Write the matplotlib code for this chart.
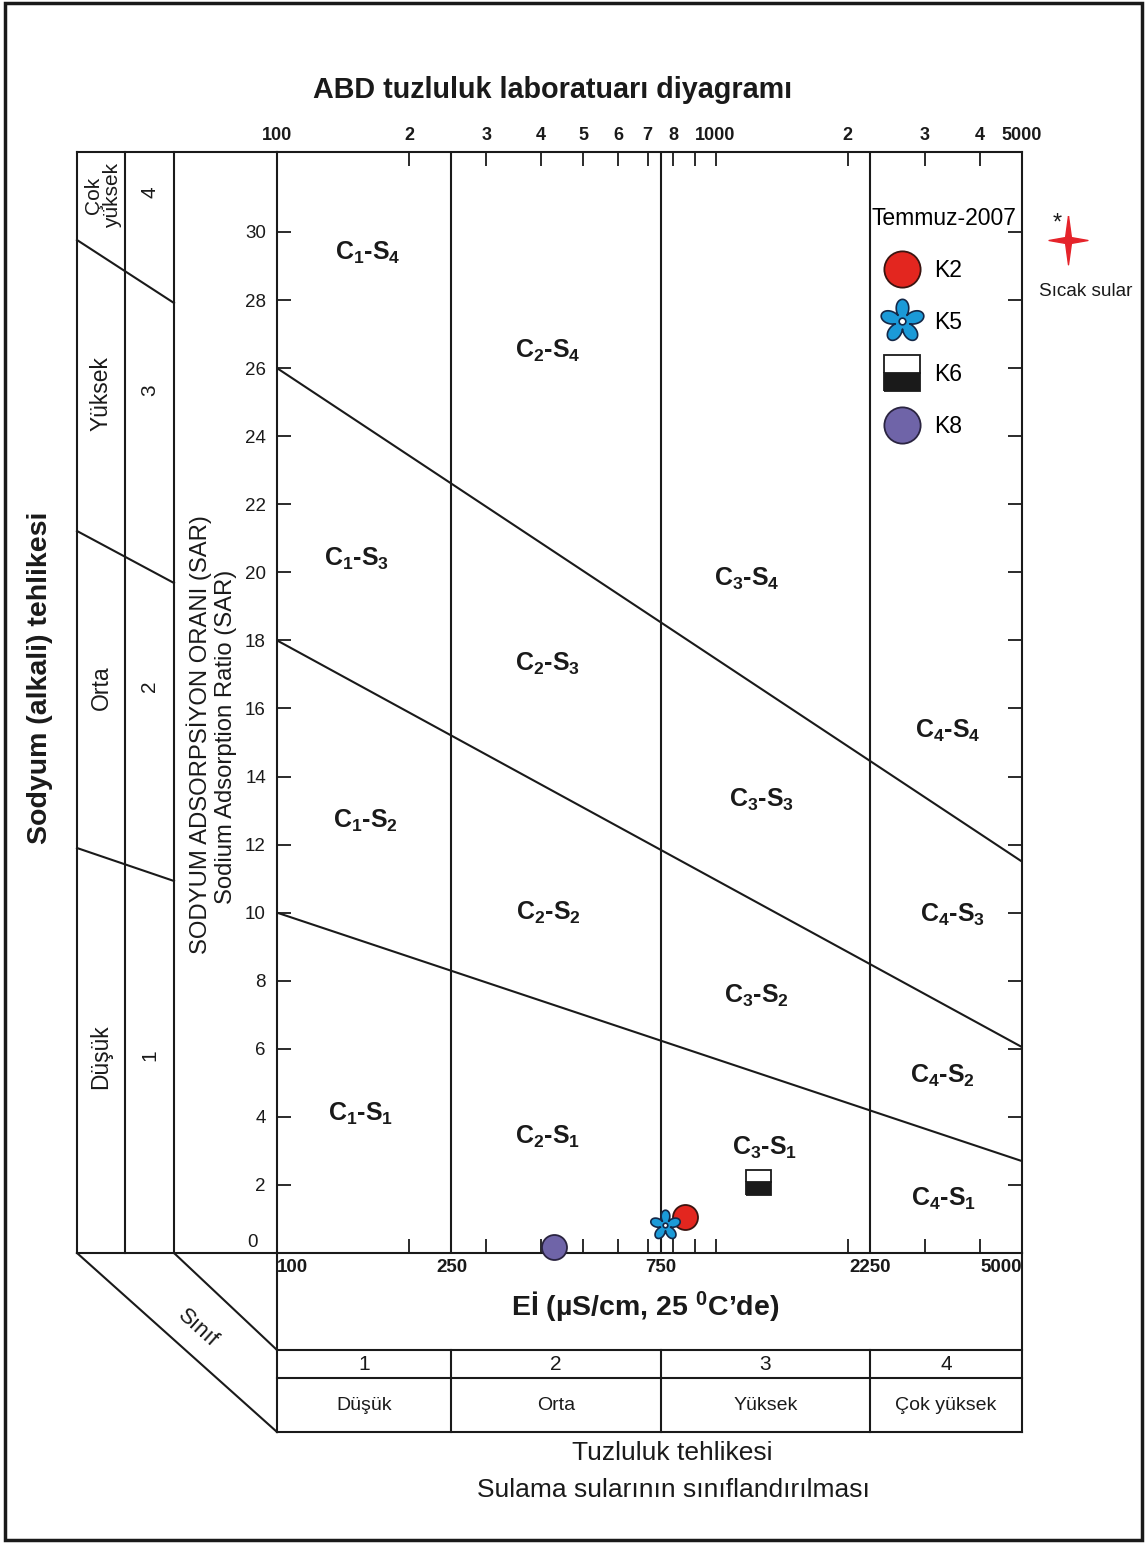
import numpy as np
import matplotlib
matplotlib.use("Agg")
import matplotlib.pyplot as plt
from matplotlib.path import Path
from matplotlib.ticker import NullLocator
from matplotlib.patches import Rectangle

plt.rcParams['font.family'] = ['Liberation Sans', 'DejaVu Sans']
plt.rcParams['mathtext.fontset'] = 'custom'
plt.rcParams['mathtext.rm'] = 'Liberation Sans'
plt.rcParams['mathtext.bf'] = 'Liberation Sans:bold'
plt.rcParams['mathtext.it'] = 'Liberation Sans:italic'

# ---------------- data ----------------
sample_names = ["K2", "K5", "K6", "K8"]
sample_ec = [852, 767, 1247, 428]        # EC (uS/cm)
sample_sar = [1.06, 0.82, 2.09, 0.18]     # SAR

ec_bounds = [250, 750, 2250]              # salinity class limits
ec_range = [100, 5000]
sar_lines_at_100 = [10.0, 18.0, 26.0]     # sodium class limits at EC=100
sar_lines_at_5000 = [2.7, 6.05, 11.5]     # sodium class limits at EC=5000

top_ticks = [100, 200, 300, 400, 500, 600, 700, 800, 900, 1000, 2000, 3000, 4000, 5000]
top_labels = ["100", "2", "3", "4", "5", "6", "7", "8", "", "1000", "2", "3", "4", "5000"]
bottom_labels = ["100", "250", "750", "2250", "5000"]
sar_ticks = list(range(0, 31, 2))
sar_labels = [""] + [str(v) for v in sar_ticks[1:]]

salinity_class = ["1", "2", "3", "4"]
salinity_names = ["Düşük", "Orta", "Yüksek", "Çok yüksek"]

# region label positions (EC, SAR)
region_labels = [
    ("1", "4", 161, 29.4), ("2", "4", 415, 26.5), ("1", "3", 152, 20.4), ("2", "3", 415, 17.3),
    ("3", "4", 1180, 19.8), ("4", "4", 3390, 15.35), ("1", "2", 159, 12.7), ("3", "3", 1276, 13.3),
    ("2", "2", 415, 10.0), ("4", "3", 3480, 9.94), ("3", "2", 1243, 7.56), ("4", "2", 3285, 5.2),
    ("1", "1", 155, 4.1), ("2", "1", 415, 3.4), ("3", "1", 1297, 3.1), ("4", "1", 3320, 1.6),
]

# ---------------- figure ----------------
W, H = 1145, 1544
fig = plt.figure(figsize=(W / 100, H / 100), dpi=100)
fig.patch.set_facecolor('white')


def fx(px):
    return px / W


def fy(py):
    return 1 - py / H


LW = 1.5
K = '#1a1a1a'

ax0 = fig.add_axes([0, 0, 1, 1], zorder=0)
ax0.set_xlim(0, W)
ax0.set_ylim(H, 0)
ax0.axis('off')

X0, X1, Y0, Y1 = 277, 1022, 152, 1253
ax = fig.add_axes([fx(X0), fy(Y1), (X1 - X0) / W, (Y1 - Y0) / H], zorder=2)
ax.set_facecolor('none')
ax.set_xscale('log')
ax.set_xlim(*ec_range)
ax.set_ylim(0, 32.35)
ax.xaxis.set_minor_locator(NullLocator())
ax.set_xticks(top_ticks, top_labels, fontweight='bold')
ax.tick_params(axis='x', which='major', direction='in', length=10, width=1.3,
               top=True, bottom=True, labeltop=True, labelbottom=False,
               labelsize=13, pad=6, colors=K)
ax.set_yticks(sar_ticks, sar_labels)
ax.tick_params(axis='y', direction='in', length=10, width=1.3, left=True, right=True,
               labelsize=13.5, pad=8, colors=K)
ax.text(-0.026, 0.3, "0", transform=ax.get_yaxis_transform(), ha='right', va='center',
        fontsize=13.5, color=K)
for s in ax.spines.values():
    s.set_linewidth(LW)
    s.set_color(K)

# class boundaries
for e in ec_bounds:
    ax.axvline(e, color=K, lw=LW)
for a, b in zip(sar_lines_at_100, sar_lines_at_5000):
    ax.plot(ec_range, [a, b], color=K, lw=LW)

# region labels
for c, s, xe, ys in region_labels:
    ax.text(xe, ys, r"C$_\mathbf{%s}$-S$_\mathbf{%s}$" % (c, s), fontsize=18,
            fontweight='bold', ha='center', va='center', color=K)

# bottom labels
for v, lab in zip([ec_range[0]] + ec_bounds + [ec_range[1]], bottom_labels):
    ha = 'center'
    if lab == bottom_labels[0]:
        ha = 'left'
    elif lab == bottom_labels[-1]:
        ha = 'right'
    ax.text(v, -0.0136, lab, transform=ax.get_xaxis_transform(), ha=ha, va='center',
            fontsize=13.5, fontweight='bold', color=K)

# markers
th = np.linspace(0, 2 * np.pi, 241)
rr = 0.34 + 0.66 * ((1 + np.cos(5 * (th - np.pi / 2))) / 2) ** 0.45
outer = np.column_stack([rr * np.cos(th), rr * np.sin(th)])
thi = np.linspace(2 * np.pi, 0, 41)
inner = np.column_stack([0.15 * np.cos(thi), 0.15 * np.sin(thi)])
verts = np.vstack([outer, inner])
codes = ([Path.MOVETO] + [Path.LINETO] * (len(outer) - 2) + [Path.CLOSEPOLY] +
         [Path.MOVETO] + [Path.LINETO] * (len(inner) - 2) + [Path.CLOSEPOLY])
flower = Path(verts, codes)

styles = {
    "K2": dict(marker='o', ms=18, mfc='#e3261f', mec='#3a1410', mew=1.3),
    "K5": dict(marker=flower, ms=22, mfc='#1b9ad8', mec='#142848', mew=1.2),
    "K6": dict(marker='s', ms=18, fillstyle='bottom', mfc='#1a1a1a', mfcalt='white',
               mec='#1a1a1a', mew=1.3),
    "K8": dict(marker='o', ms=18, mfc='#6f64a8', mec='#2a2440', mew=1.3),
}
handles = []
for name, e, s in zip(sample_names, sample_ec, sample_sar):
    h, = ax.plot([e], [s], linestyle='none', label=name, clip_on=False, zorder=5, **styles[name])
    handles.append(h)

leg = ax.legend(handles=handles, title='Temmuz-2007', frameon=False, markerscale=1.45,
                fontsize=16.5, title_fontsize=16.5, labelspacing=1.27, handlelength=2.6,
                handletextpad=0.1, borderpad=0, borderaxespad=0, numpoints=1, loc='upper left',
                bbox_to_anchor=(fx(872), fy(207)), bbox_transform=fig.transFigure)
leg._legend_box.align = 'left'

# ---------------- frame structure (pixel space) ----------------
def line(xs, ys, lw=LW):
    ax0.plot(xs, ys, color=K, lw=lw, solid_capstyle='projecting')


line([77, X0], [Y0, Y0])
for xv in [77, 125, 174]:
    line([xv, xv], [Y0, Y1])
line([77, X0], [Y1, Y1])
line([77, X0], [1253, 1432])
line([174, X0], [1253, 1350])
line([X0, X0], [Y1, 1432])
line([X1, X1], [Y1, 1432])
for yv in [1350, 1378, 1432]:
    line([X0, X1], [yv, yv])
line([77, 174], [240, 303])
line([77, 174], [531, 583])
line([77, 174], [848, 881])

# table verticals at class bounds
for e in ec_bounds:
    ax.plot([e, e], [(Y1 - 1350) / (Y1 - Y0), (Y1 - 1432) / (Y1 - Y0)],
            transform=ax.get_xaxis_transform(), color=K, lw=LW, clip_on=False)

edges = [ec_range[0]] + ec_bounds + [ec_range[1]]
for i in range(4):
    xm = np.sqrt(edges[i] * edges[i + 1])
    ax.text(xm, (Y1 - 1365) / (Y1 - Y0), salinity_class[i], transform=ax.get_xaxis_transform(),
            ha='center', va='center', fontsize=15, color=K)
    ax.text(xm, (Y1 - 1405) / (Y1 - Y0), salinity_names[i], transform=ax.get_xaxis_transform(),
            ha='center', va='center', fontsize=14, color=K)

# outer border
ax0.add_patch(Rectangle((5, 3), 1137, 1537, fill=False, lw=2.5, ec=K))

# left panel text
ax0.text(103, 195, "Çok\nyüksek", rotation=90, ha='center', va='center', fontsize=15,
         linespacing=0.95, color=K)
for txt, yv in [("Yüksek", 394), ("Orta", 688), ("Düşük", 1057)]:
    ax0.text(101, yv, txt, rotation=90, ha='center', va='center', fontsize=16.5, color=K)
for txt, yv in [("4", 192), ("3", 390), ("2", 686), ("1", 1055)]:
    ax0.text(150, yv, txt, rotation=90, ha='center', va='center', fontsize=15, color=K)
ax0.text(198, 1328, "Sınıf", rotation=-42, ha='center', va='center', fontsize=16, color=K)

# titles
fig.text(fx(553), fy(90), "ABD tuzluluk laboratuarı diyagramı", ha='center', va='center',
         fontsize=20.7, fontweight='bold', color=K)
fig.text(fx(40), fy(678), "Sodyum (alkali) tehlikesi", rotation=90, ha='center', va='center',
         fontsize=20.5, fontweight='bold', color=K)
fig.text(fx(199), fy(735), "SODYUM ADSORPSİYON ORANI (SAR)", rotation=90, ha='center',
         va='center', fontsize=17.2, color=K)
fig.text(fx(226), fy(737), "Sodium Adsorption Ratio (SAR)", rotation=90, ha='center',
         va='center', fontsize=17.2, color=K)
fig.text(fx(645), fy(1306), "Eİ (µS/cm, 25 $^\\mathbf{0}$C’de)", ha='center', va='center',
         fontsize=20.5, fontweight='bold', color=K)
fig.text(fx(672), fy(1453), "Tuzluluk tehlikesi", ha='center', va='center', fontsize=19, color=K)
fig.text(fx(673), fy(1490), "Sulama sularının sınıflandırılması", ha='center', va='center',
         fontsize=19, color=K)

# hot-water star
star = Path([(0, 1), (0.12, 0.12), (0.8, 0), (0.12, -0.12), (0, -1), (-0.12, -0.12),
             (-0.8, 0), (-0.12, 0.12), (0, 1)])
ax0.plot([1068], [240], marker=star, ms=35, color='#e5232a', mec='#e5232a', linestyle='none')
ax0.text(1057, 224, "*", ha='center', va='center', fontsize=17, color=K)
ax0.text(1086, 291, "Sıcak sular", ha='center', va='center', fontsize=13.7, color=K)

fig.savefig("out.png", dpi=100, facecolor='white')
